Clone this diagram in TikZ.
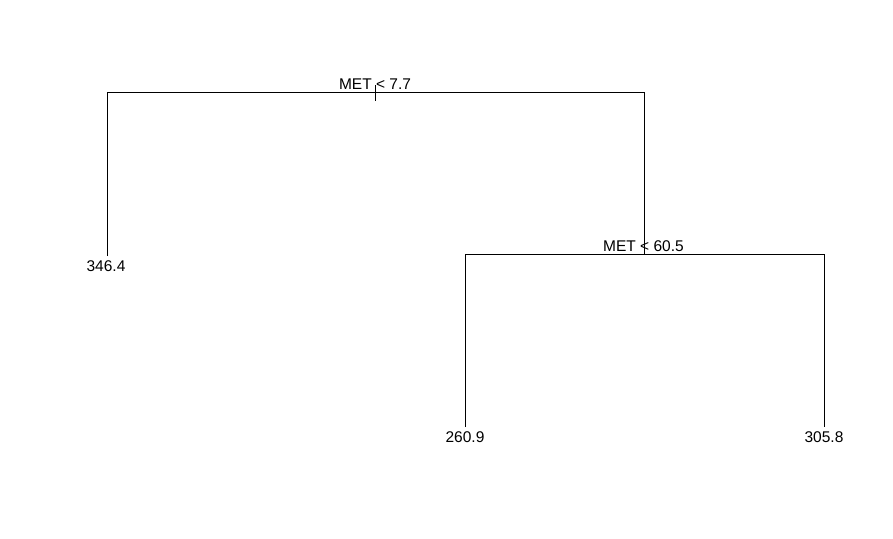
\documentclass[tikz,border=0pt]{standalone}
\usepackage{fontspec}
\setmainfont{Liberation Sans}
\begin{document}
\begin{tikzpicture}[x=1pt,y=-1pt,
  edge/.style={draw=black,line width=0.9pt},
  lbl/.style={inner sep=0pt,anchor=base,font=\fontsize{15.5}{18}\selectfont,text=black}]
\useasboundingbox[fill=white] (0,0) rectangle (893,538);
% split points and leaf ends
\coordinate (root) at (375,92);
\coordinate (rootL) at (107,92);
\coordinate (rootR) at (644,92);
\coordinate (leafA) at (107,256);
\coordinate (split2) at (644,254);
\coordinate (s2L) at (465,254);
\coordinate (s2R) at (824,254);
\coordinate (leafB) at (465,427);
\coordinate (leafC) at (824,427);
\coordinate (tickT) at (375,85);
\coordinate (tickB) at (375,101);
% edges
\draw[edge] (leafA) -- (rootL) -- (rootR) -- (split2);
\draw[edge] (leafB) -- (s2L) -- (s2R) -- (leafC);
\draw[edge] (tickT) -- (tickB);
% labels
\node[lbl] (lroot) at (375,89.5) {MET < 7.7};
\node[lbl] (lsplit) at (643.5,251.5) {MET < 60.5};
\node[lbl] (la) at (106,271.5) {346.4};
\node[lbl] (lb) at (465,442) {260.9};
\node[lbl] (lc) at (824,442) {305.8};
\end{tikzpicture}
\end{document}
